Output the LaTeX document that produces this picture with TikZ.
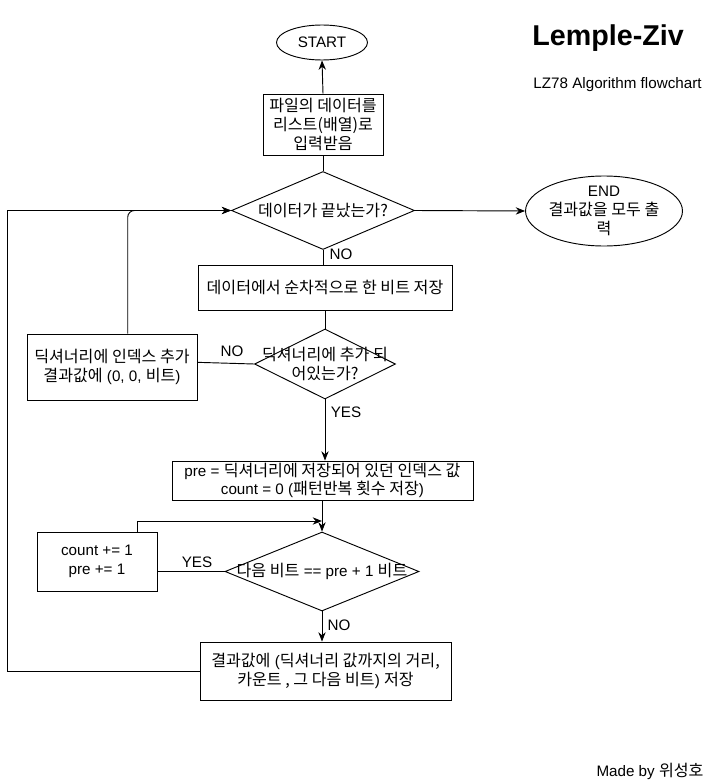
\documentclass[tikz,border=0pt]{standalone}
\usepackage{fontspec}
\setmainfont{Liberation Sans}
\newfontfamily\krfont[Scale=1.06]{Noto Sans CJK KR}
\newcommand\kor[1]{{\krfont #1}}
\usetikzlibrary{shapes.geometric,arrows.meta}

\begin{document}
\begin{tikzpicture}
[x=0.75pt, y=-0.75pt, line width=0.7pt, >={Stealth[length=7pt,width=5.5pt]},
every node/.style={font=\fontsize{11.4}{14}\selectfont},
box/.style={rectangle, draw, align=center, inner sep=0pt},
term/.style={ellipse, draw, align=center, inner sep=0pt},
test/.style={diamond, draw, inner sep=0pt},
txt/.style={align=center, inner sep=0pt},
lbl/.style={inner sep=0pt}
]
\useasboundingbox (0,0) rectangle (718,781);

\node[lbl, anchor=west, font=\fontsize{21.5}{24}\selectfont\bfseries] (title) at (532,38) {Lemple-Ziv};
\node[lbl, anchor=west] (subtitle) at (533,85) {LZ78 Algorithm flowchart};

\node[term, minimum width=68.25pt, minimum height=26.25pt] (start) at (322,42.5) {START};
\node[box, minimum width=90pt, minimum height=45.75pt] (readbox) at (323,124.5) {\kor{파일의 데이터를}\\\kor{리스트(배열)로}\\\kor{입력받음}};

\node[test, minimum width=137.25pt, minimum height=58.5pt] (endcheck) at (323,210.5) {};
\node[txt] (endchecktxt) at (endcheck) {\kor{데이터가 끝났는가?}};
\node[term, minimum width=87pt, minimum height=52.5pt] (finish) at (604,211) {END\\\kor{결과값을 모두 출}\\\kor{력}};

\node[box, minimum width=190.5pt, minimum height=33.75pt] (fetch) at (325,287.5) {\kor{데이터에서 순차적으로 한 비트 저장}};

\node[test, minimum width=105.75pt, minimum height=52.5pt] (indict) at (325,364) {};
\node[txt] (indicttxt) at (indict) {\kor{딕셔너리에 추가 되}\\\kor{어있는가?}};
\node[box, minimum width=127.5pt, minimum height=49.5pt] (addbox) at (112,367) {\kor{딕셔너리에 인덱스 추가}\\\kor{결과값에} (0, 0, \kor{비트})};

\node[box, minimum width=225.75pt, minimum height=29.25pt] (prebox) at (322.5,480.5) {pre = \kor{딕셔너리에 저장되어 있던 인덱스 값}\\count = 0 (\kor{패턴반복 횟수 저장})};

\node[test, minimum width=145.5pt, minimum height=59.25pt] (nextcheck) at (322,571.5) {};
\node[txt] (nextchecktxt) at (nextcheck) {\kor{다음 비트} == pre + 1 \kor{비트}};
\node[box, minimum width=90pt, minimum height=44.25pt] (countbox) at (97,561.5) {count += 1\\pre += 1};

\node[box, minimum width=188.25pt, minimum height=43.5pt] (savebox) at (325.5,671) {\kor{결과값에} (\kor{딕셔너리 값까지의 거리,}\\\kor{카운트 , 그 다음 비트}) \kor{저장}};

\node[lbl] (madeby) at (650,771) {Made by \kor{위성호}};

\node[lbl] (no1) at (341,254) {NO};
\node[lbl] (no2) at (232,351) {NO};
\node[lbl] (yes1) at (346,412) {YES};
\node[lbl] (yes2) at (197,562) {YES};
\node[lbl] (no3) at (339,625) {NO};

\coordinate (loopx) at (7.5,0);
\coordinate (merge) at (322,521);

\draw[->] (readbox.north) -- (start.south);
\draw (readbox.south) -- (endcheck.north);
\draw[->] (endcheck.east) -- (finish.west);
\draw (endcheck.south) -- (fetch.north -| endcheck.south);
\draw (fetch.south -| indict.north) -- (indict.north);
\draw (indict.west) -- ([yshift=3.5pt]addbox.east);
\draw[->, rounded corners=5pt] ([xshift=11.8pt]addbox.north) |- (endcheck.west);
\draw[->] (indict.south) -- (prebox.north -| indict.south);
\draw[->] (prebox.south -| nextcheck.north) -- (nextcheck.north);
\draw (nextcheck.west) -- (countbox.east |- nextcheck.west);
\draw[->] ([xshift=30pt]countbox.north) |- (merge);
\draw[->] (nextcheck.south) -- (savebox.north -| nextcheck.south);
\draw[->] (savebox.west) -- (savebox.west -| loopx) |- (endcheck.west);

\end{tikzpicture}
\end{document}
